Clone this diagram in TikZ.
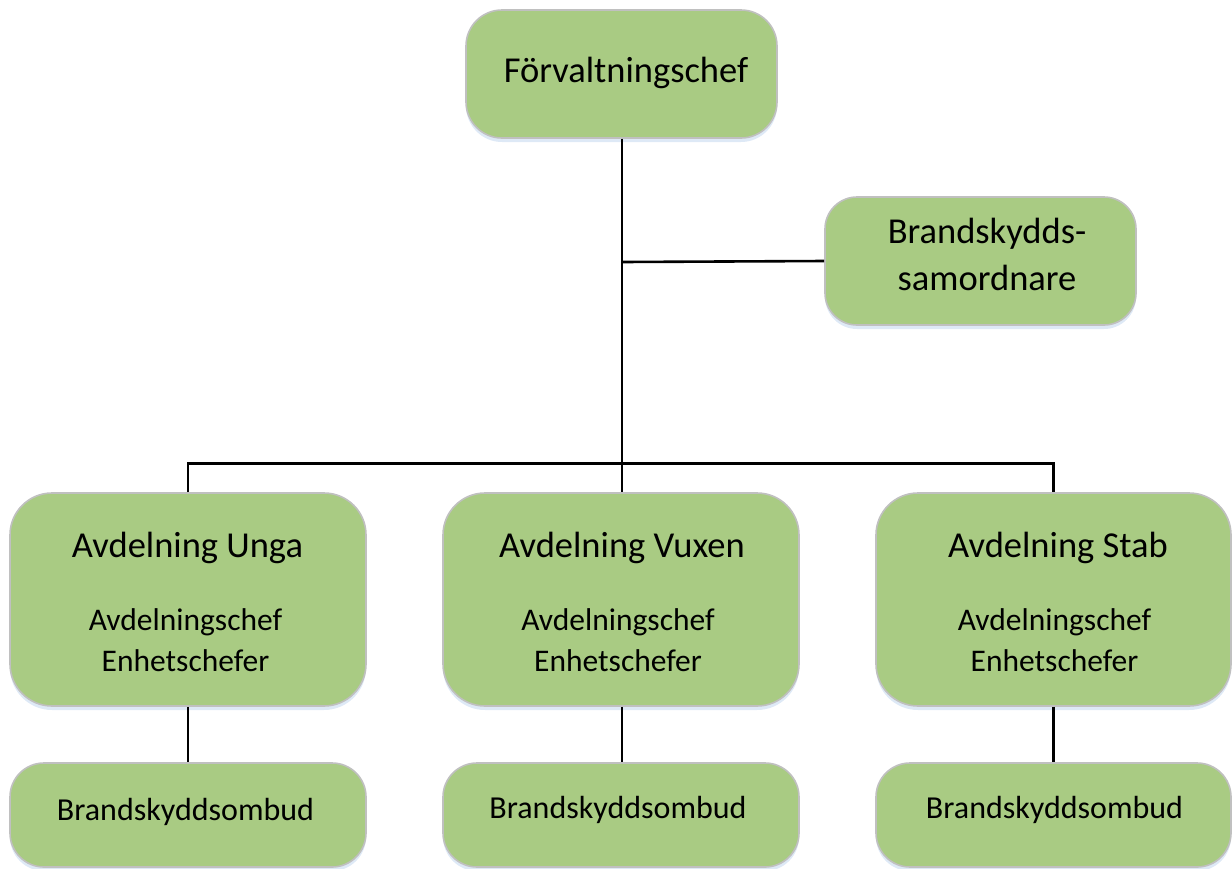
\documentclass[tikz,border=0pt]{standalone}
\usepackage{fontspec}
\setmainfont{Carlito}
\usetikzlibrary{shadows}
\definecolor{boxfill}{RGB}{169,203,131}
\definecolor{boxline}{RGB}{192,192,192}
\definecolor{shadowc}{RGB}{200,218,240}
\tikzset{
  orgbox/.style={draw=boxline, line width=1.6pt, fill=boxfill, inner sep=0pt,
    drop shadow={shadow xshift=0pt, shadow yshift=-4pt, opacity=0.6, fill=shadowc}},
  conn/.style={line width=2.6pt, black},
  bigtxt/.style={font=\fontsize{36.5}{40}\selectfont, inner sep=0pt, anchor=center},
  medtxt/.style={font=\fontsize{31.5}{39}\selectfont, inner sep=0pt, anchor=center},
  smtxt/.style={font=\fontsize{32}{36}\selectfont, inner sep=0pt, anchor=center},
}
\begin{document}
\begin{tikzpicture}[x=1pt,y=-1pt]
\useasboundingbox (0,0) rectangle (1232,868);
% boxes
\node[orgbox, rounded corners=36pt, minimum width=311pt, minimum height=128pt] (top) at (621.5,74) {};
\node[orgbox, rounded corners=32pt, minimum width=311pt, minimum height=128pt] (brand) at (980.5,261) {};
\node[orgbox, rounded corners=42pt, minimum width=356pt, minimum height=213pt] (unga) at (188,599.5) {};
\node[orgbox, rounded corners=42pt, minimum width=356pt, minimum height=213pt] (vuxen) at (621,599.5) {};
\node[orgbox, rounded corners=42pt, minimum width=355pt, minimum height=213pt] (stab) at (1053.5,599.5) {};
\node[orgbox, rounded corners=34pt, minimum width=356pt, minimum height=104pt] (ungab) at (188,815) {};
\node[orgbox, rounded corners=34pt, minimum width=356pt, minimum height=104pt] (vuxenb) at (621,815) {};
\node[orgbox, rounded corners=34pt, minimum width=355pt, minimum height=104pt] (stabb) at (1053.5,815) {};
% texts
\node[bigtxt] (ttop) at (626,73) {Förvaltningschef};
\node[bigtxt] (tbr1) at (987,234) {Brandskydds-};
\node[bigtxt] (tbr2) at (987,278) {samordnare};
\node[bigtxt] (tu1) at (187.5,548) {Avdelning Unga};
\node[bigtxt] (tv1) at (622,548) {Avdelning Vuxen};
\node[bigtxt] (ts1) at (1058,548) {Avdelning Stab};
\node[medtxt] (tu2) at (185.5,622) {Avdelningschef};
\node[medtxt] (tv2) at (618,622) {Avdelningschef};
\node[medtxt] (ts2) at (1054.5,622) {Avdelningschef};
\node[medtxt] (tu3) at (185.5,661) {Enhetschefer};
\node[medtxt] (tv3) at (618,661) {Enhetschefer};
\node[medtxt] (ts3) at (1054.5,661) {Enhetschefer};
\node[smtxt] (tu4) at (185.5,812) {Brandskyddsombud};
\node[smtxt] (tv4) at (618,810) {Brandskyddsombud};
\node[smtxt] (ts4) at (1054.5,810) {Brandskyddsombud};
% connectors
\coordinate (hub) at (622,463.5);
\coordinate (br) at (622,262);
\coordinate (lh) at (188,463.5);
\coordinate (rh) at (1053.5,463.5);
\draw[conn] (top.south -| hub) -- (hub);
\draw[conn] (br) -- (brand.west);
\draw[conn] (unga.north) -- (lh) -- (rh) -- (stab.north);
\draw[conn] (hub) -- (vuxen.north -| hub);
\draw[conn] (unga.south) -- (ungab.north);
\draw[conn] (vuxen.south -| hub) -- (vuxenb.north -| hub);
\draw[conn] (stab.south) -- (stabb.north);
\end{tikzpicture}
\end{document}
